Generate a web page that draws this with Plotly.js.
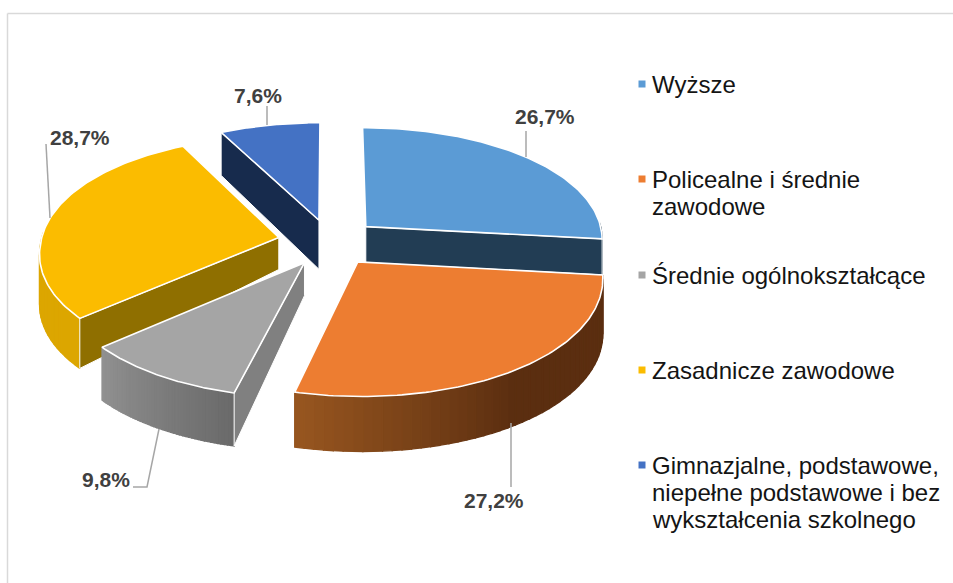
<!DOCTYPE html>
<html>
<head>
<meta charset="utf-8">
<script src="https://cdn.plot.ly/plotly-3.0.1.min.js"></script>
<style>html,body{margin:0;padding:0;background:#fff}#chart{width:953px;height:583px}</style>
</head>
<body>
<div id="chart"></div>
<script>
// ---- data ----
const categories = ['Wyższe', 'Policealne i średnie<br>zawodowe', 'Średnie ogólnokształcące', 'Zasadnicze zawodowe',
  'Gimnazjalne, podstawowe,<br>niepełne podstawowe i bez<br>wykształcenia szkolnego'];
const shares = [26.7, 27.2, 9.8, 28.7, 7.6];

// ---- styles ----
const topColors = ['#5b9bd5', '#ed7d31', '#a5a5a5', '#fbbc00', '#4472c4'];
const cutWallColors = ['#223d54', '#5c2e10', '#808080', '#8f6f00', '#172b4d'];
const rimStart = ['#223d54', '#5b2e10', '#6a6a6a', '#dca600', '#172b4d'];
const rimEnd = ['#223d54', '#995720', '#919191', '#dca600', '#172b4d'];
const rimSplit = [0, 0.5, 0, 0, 0];
const explode = [0.205, 0.2, 0.2, 0.22, 0.2];
const apexDepth = [36, 33, 33, 32, 49];
const rimDepth = [36, 55, 53, 50, 43];
const cutWallAtEnd = [1, null, 0, 0, 0];
const paintOrder = [4, 0, 3, 2, 1];

// ---- view of the tilted disc ----
const cx = 330, cy = 242.4, A = 238, B = 117;
function project(X, Y) {
  const px = 1 / (1 + (Y < 0 ? 0.12 : 0.10) * Y);
  const py = 1 / (1 + (Y < 0 ? 0.10 : 0.14) * Y);
  return [cx + A * X * px, cy - B * Y * py];
}

const traces = [];
function poly(pts, fill, lineColor, lineWidth) {
  traces.push({
    type: 'scatter', mode: 'lines', hoverinfo: 'skip', showlegend: false,
    x: pts.map(p => p[0]).concat([pts[0][0]]), y: pts.map(p => p[1]).concat([pts[0][1]]),
    fill: 'toself', fillcolor: fill, line: {color: lineColor, width: lineWidth}
  });
}
function hex(c) { return [1, 3, 5].map(i => parseInt(c.substr(i, 2), 16)); }
function mix(a, b, t) {
  const ca = hex(a), cb = hex(b);
  return 'rgb(' + ca.map((v, i) => Math.round(v + (cb[i] - v) * t)).join(',') + ')';
}

const total = shares.reduce((a, b) => a + b, 0);
const slices = [];
let acc = 0;
shares.forEach((s, i) => {
  const a0 = acc / total * 2 * Math.PI;
  acc += s;
  const a1 = acc / total * 2 * Math.PI;
  const mid = (a0 + a1) / 2;
  slices[i] = {a0, a1, ox: explode[i] * Math.sin(mid), oy: explode[i] * Math.cos(mid)};
});

paintOrder.forEach(i => {
  const {a0, a1, ox, oy} = slices[i];
  const rim = t => { const a = a0 + (a1 - a0) * t; return project(ox + Math.sin(a), oy + Math.cos(a)); };
  const apex = project(ox, oy);
  const drop = (p, d) => [p[0], p[1] + d];
  const N = 48;
  // outer wall, one strip per colour step; only the part facing the viewer
  for (let k = 0; k < N; k++) {
    const t0 = k / N, t1 = (k + 1) / N;
    const aMid = a0 + (a1 - a0) * (t0 + t1) / 2;
    if (Math.cos(aMid) > 0.05) continue;
    const p0 = rim(t0), p1 = rim(t1);
    const g = Math.max(0, (t0 - rimSplit[i]) / (1 - rimSplit[i]));
    const col = mix(rimStart[i], rimEnd[i], g);
    poly([p0, p1, drop(p1, rimDepth[i]), drop(p0, rimDepth[i])], col, col, 1.3);
  }
  // cut wall facing the viewer
  if (cutWallAtEnd[i] !== null) {
    const e = rim(cutWallAtEnd[i]);
    poly([apex, e, drop(e, rimDepth[i]), drop(apex, apexDepth[i])], cutWallColors[i], '#ffffff', 1);
  }
  // top face
  const top = [apex];
  for (let k = 0; k <= 96; k++) top.push(rim(k / 96));
  poly(top, topColors[i], '#ffffff', 1.6);
});

// leader lines
const leaderX = [[526, 526], [511, 511], [159, 147, 133], [46, 50], [267, 267]];
const leaderY = [[131, 157], [423, 487], [429, 487, 487], [144, 218], [106, 125]];
leaderX.forEach((xs, i) => traces.push({
  type: 'scatter', mode: 'lines', hoverinfo: 'skip', showlegend: false,
  x: xs, y: leaderY[i], line: {color: '#a6a6a6', width: 1.5}
}));

// legend keys
const legendKeyX = 642;
const legendKeyY = [84, 179, 275, 370, 465];
categories.forEach((c, i) => traces.push({
  type: 'scatter', mode: 'markers', hoverinfo: 'skip', showlegend: false,
  x: [legendKeyX], y: [legendKeyY[i]],
  marker: {symbol: 'square', size: 7, color: topColors[i]}
}));

const labelX = [545, 494, 106, 80, 258];
const labelY = [116, 500, 479, 137, 95];
const fmt = v => v.toFixed(1).replace('.', ',') + '%';
const annotations = shares.map((v, i) => ({
  x: labelX[i], y: labelY[i], xref: 'x', yref: 'y', showarrow: false, text: fmt(v),
  xanchor: 'center', yanchor: 'middle',
  font: {family: 'Liberation Sans, Arial, sans-serif', size: 21, color: '#404040', weight: 700}
}));
const legendLineGap = 27.3;
categories.forEach((c, i) => c.split('<br>').forEach((line, j) => annotations.push({
  x: 650, y: legendKeyY[i] + j * legendLineGap, xref: 'x', yref: 'y', showarrow: false, text: line,
  xanchor: 'left', yanchor: 'middle', align: 'left',
  font: {family: 'Liberation Sans, Arial, sans-serif', size: 24, color: '#141414'}
})));

const layout = {
  width: 953, height: 583, margin: {l: 0, r: 0, t: 0, b: 0},
  paper_bgcolor: '#ffffff', plot_bgcolor: '#ffffff', showlegend: false,
  xaxis: {range: [0, 953], visible: false, fixedrange: true},
  yaxis: {range: [583, 0], visible: false, fixedrange: true},
  annotations,
  shapes: [
    {type: 'line', xref: 'x', yref: 'y', x0: 7.5, x1: 7.5, y0: 13.5, y1: 583, line: {color: '#d9d9d9', width: 1.5}},
    {type: 'line', xref: 'x', yref: 'y', x0: 7.5, x1: 953, y0: 13.5, y1: 13.5, line: {color: '#d9d9d9', width: 1.5}}
  ]
};
Plotly.newPlot('chart', traces, layout, {displayModeBar: false, staticPlot: true});
</script>
</body>
</html>
